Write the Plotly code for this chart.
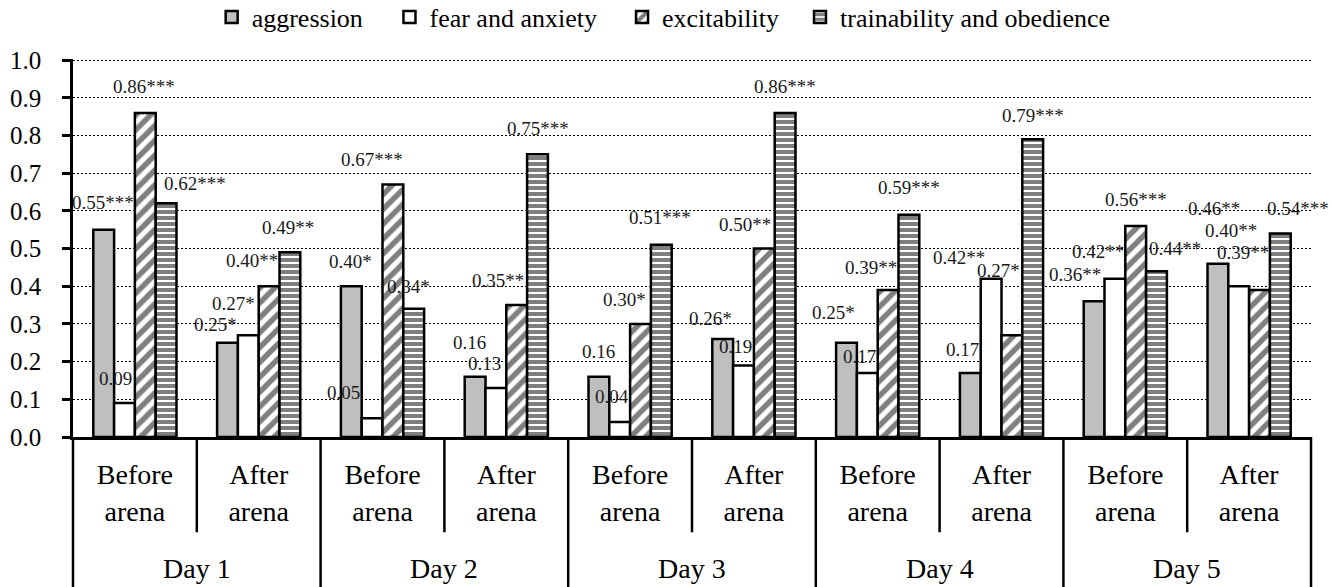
import plotly.graph_objects as go

# ---- data -------------------------------------------------------------
days = ["Day 1", "Day 2", "Day 3", "Day 4", "Day 5"]
phases = ["Before<br>arena", "After<br>arena"]
series_names = ["aggression", "fear and anxiety", "excitability",
                "trainability and obedience"]

aggression = [0.55, 0.25, 0.40, 0.16, 0.16, 0.26, 0.25, 0.17, 0.36, 0.46]
fear_anxiety = [0.09, 0.27, 0.05, 0.13, 0.04, 0.19, 0.17, 0.42, 0.42, 0.40]
excitability = [0.86, 0.40, 0.67, 0.35, 0.30, 0.50, 0.39, 0.27, 0.56, 0.39]
trainability = [0.62, 0.49, 0.34, 0.75, 0.51, 0.86, 0.59, 0.79, 0.44, 0.54]

# significance marks printed after each value
aggression_sig = ["***", "*", "*", "", "", "*", "*", "", "**", "**"]
fear_anxiety_sig = ["", "*", "", "", "", "", "", "**", "**", "**"]
excitability_sig = ["***", "**", "***", "**", "*", "**", "**", "*", "***", "**"]
trainability_sig = ["***", "**", "*", "***", "***", "***", "***", "***", "**", "***"]

y_tick_values = [0.0, 0.1, 0.2, 0.3, 0.4, 0.5, 0.6, 0.7, 0.8, 0.9, 1.0]
y_tick_labels = ["0.0", "0.1", "0.2", "0.3", "0.4", "0.5", "0.6", "0.7",
                 "0.8", "0.9", "1.0"]

# ---- styling ----------------------------------------------------------
FONT = "'Liberation Serif', 'Times New Roman', Times, serif"
BAR_GAP = 0.328
N_SERIES = 4
bar_w = (1 - BAR_GAP) / N_SERIES

styles = [
    dict(color="#bfbfbf", pattern=dict(shape="")),
    dict(color="white", pattern=dict(shape="")),
    dict(color="white", pattern=dict(shape="/", fgcolor="black", bgcolor="white",
                                     size=10.5, solidity=0.52)),
    dict(color="white", pattern=dict(shape="-", fgcolor="black", bgcolor="white",
                                     size=6, solidity=0.6667)),
]

# one legend box per series, laid out in a row across the top
legend_ids = ["legend", "legend2", "legend3", "legend4"]
legend_x = [0.1589, 0.2924, 0.4670, 0.6006]

# pixel nudges (dx, up) for each value label, per series
label_nudge = [
    [(-1, 27), (-12, 18), (-1, 25), (-6, 34), (0, 25), (-12, 21), (-13, 30), (-8, 23), (-19, 27), (-4, 55)],
    [(-9, 25), (-15, 32), (-29, 26), (-11, 25), (-8, 25), (-8, 19), (-8, 16), (-32, 21), (-17, 27), (-8, 56)],
    [(-1, 26), (-17, 26), (-21, 25), (-19, 25), (-16, 24), (-19, 24), (-17, 23), (-13, 65), (0, 26), (-17, 38)],
    [(29, 20), (-2, 25), (-5, 22), (0, 26), (-1, 27), (0, 26), (0, 27), (0, 24), (18, 23), (18, 25)],
]

values = [aggression, fear_anxiety, excitability, trainability]
sigs = [aggression_sig, fear_anxiety_sig, excitability_sig, trainability_sig]

n_groups = len(days) * len(phases)
xs = list(range(n_groups))
phase_labels = [p for _ in days for p in phases]

fig = go.Figure()
for j, (name, vals, st) in enumerate(zip(series_names, values, styles)):
    fig.add_trace(go.Bar(
        x=xs, y=vals, name=name, legend=legend_ids[j],
        marker=dict(color=st["color"], pattern=st["pattern"],
                    line=dict(color="black", width=2.5)),
        hoverinfo="skip",
    ))

annotations = []
for j in range(N_SERIES):
    for i in range(n_groups):
        dx, up = label_nudge[j][i]
        v = values[j][i]
        annotations.append(dict(
            x=i + (j - (N_SERIES - 1) / 2) * bar_w, y=v, xref="x", yref="y",
            text=f"{v:.2f}{sigs[j][i]}", showarrow=False,
            xshift=dx, yshift=up, xanchor="center", yanchor="middle",
            font=dict(family=FONT, size=19, color="#1a1a1a"),
        ))

# day labels under each pair of phases
for k, d in enumerate(days):
    annotations.append(dict(
        x=2 * k + 0.5, y=-0.347, xref="x", yref="paper", text=d,
        showarrow=False, xanchor="center", yanchor="middle",
        font=dict(family=FONT, size=28, color="black"),
    ))

x_lo, x_hi = -0.5, n_groups - 0.5
y_top = 1.003


def to_paper(x):
    return (x - x_lo) / (x_hi - x_lo)


shapes = []
# long dividers between days
for k in range(len(days) + 1):
    px = to_paper(2 * k - 0.5)
    shapes.append(dict(type="line", xref="paper", yref="paper", x0=px, x1=px,
                       y0=0, y1=-0.4, line=dict(color="black", width=2.5)))
# short dividers between phases
for k in range(len(days)):
    px = to_paper(2 * k + 0.5)
    shapes.append(dict(type="line", xref="paper", yref="paper", x0=px, x1=px,
                       y0=0, y1=-0.252, line=dict(color="black", width=2.5)))

legend_common = dict(orientation="h", xref="container", yref="container",
                     xanchor="left", y=0.971, yanchor="middle",
                     font=dict(family=FONT, size=26, color="black"),
                     bgcolor="rgba(0,0,0,0)", borderwidth=0)

fig.update_layout(
    width=1332, height=587,
    margin=dict(l=73, r=21, t=59, b=150, autoexpand=False),
    paper_bgcolor="white", plot_bgcolor="white",
    barmode="group", bargap=BAR_GAP, bargroupgap=0,
    font=dict(family=FONT, color="black"),
    showlegend=True,
    annotations=annotations,
    shapes=shapes,
)
for lid, lx in zip(legend_ids, legend_x):
    fig.update_layout({lid: dict(legend_common, x=lx)})

fig.update_xaxes(
    range=[x_lo, x_hi], tickmode="array", tickvals=xs, ticktext=phase_labels,
    showgrid=False, zeroline=False, showline=True, linecolor="black",
    linewidth=2.5, ticks="", tickfont=dict(family=FONT, size=28, color="black"),
    ticklabelstandoff=11,
)
fig.update_yaxes(
    range=[0, y_top], tickmode="array", tickvals=y_tick_values,
    ticktext=y_tick_labels, showgrid=True, gridcolor="black", gridwidth=1,
    griddash="2px,2px", zeroline=False, showline=True, linecolor="black",
    linewidth=2.5, ticks="outside", ticklen=8, tickwidth=2.5,
    tickcolor="black", tickfont=dict(family=FONT, size=25, color="black"),
    ticklabelstandoff=16,
)

fig.write_html("out.html")
